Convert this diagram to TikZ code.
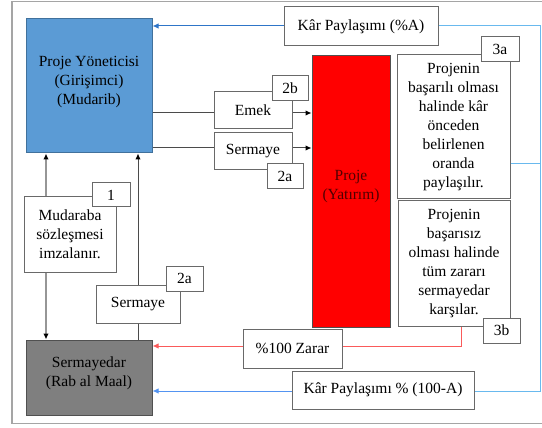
\documentclass[tikz,border=0pt]{standalone}
\usepackage{fontspec}
\setmainfont{Liberation Serif}
\newfontfamily\diagfont{Liberation Serif}
\usetikzlibrary{arrows.meta}
\definecolor{pmblue}{RGB}{91,155,213}
\definecolor{pmedge}{RGB}{65,113,156}
\definecolor{smgray}{RGB}{127,127,127}
\definecolor{smedge}{RGB}{80,80,80}
\definecolor{prred}{RGB}{255,0,0}
\definecolor{prtext}{RGB}{80,0,0}
\definecolor{boxedge}{RGB}{105,105,105}
\definecolor{frameg}{RGB}{165,165,165}
\definecolor{flowdark}{RGB}{46,117,200}
\definecolor{flowlight}{RGB}{105,185,238}
\definecolor{lossred}{RGB}{250,90,90}
\definecolor{linkdark}{RGB}{75,75,75}
\definecolor{linklight}{RGB}{150,150,150}
\tikzset{
  every node/.style={font=\diagfont\fontsize{15.5}{19}\selectfont, align=center, inner sep=0pt},
  block/.style={draw=boxedge, line width=1pt, fill=white},
  tag/.style={draw=boxedge, line width=1pt, fill=white},
  tip/.style={-{Latex[length=6pt,width=5.5pt]}},
  blacktip/.style={-{Latex[length=6pt,width=5.5pt,black]}},
}
\begin{document}
\begin{tikzpicture}[x=1pt,y=-1pt]
\useasboundingbox (0,0) rectangle (542,428);
% outer frame
\draw[frameg, line width=1.5pt] (545,1.5) -- (12,1.5) -- (12,423.5) -- (545,423.5);

% main parties
\node[draw=pmedge, line width=1pt, fill=pmblue, minimum width=126pt, minimum height=134pt] (pm) at (89,86) {};
\node (pmtext) at (89,82) {Proje Yöneticisi\\(Girişimci)\\(Mudarib)};
\node[draw=smedge, line width=1pt, fill=smgray, minimum width=126pt, minimum height=75pt] (sm) at (89,377.5) {};
\node (smtext) at (89,373) {Sermayedar\\(Rab al Maal)};
\node[draw=smedge, line width=1pt, fill=prred, minimum width=78pt, minimum height=271pt] (pr) at (351,191.5) {};
\node[text=prtext] (prtext) at (351,186.5) {Proje\\(Yatırım)};

% text boxes
\node[block, minimum width=154pt, minimum height=39pt] (karA) at (361,26.5) {Kâr Paylaşımı (\%A)};
\node[block, minimum width=113pt, minimum height=144pt] (succ) at (453.5,127) {Projenin\\başarılı olması\\halinde kâr\\önceden\\belirlenen\\oranda\\paylaşılır.};
\node[block, minimum width=112pt, minimum height=125pt] (fail) at (454,263.5) {Projenin\\başarısız\\olması halinde\\tüm zararı\\sermayedar\\karşılar.};
\node[block, minimum width=99pt, minimum height=39pt] (loss) at (292.5,348.5) {\%100 Zarar};
\node[block, minimum width=182pt, minimum height=38pt] (karB) at (383,390) {Kâr Paylaşımı \% (100-A)};
\node[block, minimum width=78pt, minimum height=37pt] (emek) at (253,110.5) {Emek};
\node[block, minimum width=78pt, minimum height=37pt] (serU) at (253,151.5) {Sermaye};
\node[block, minimum width=92pt, minimum height=75pt] (mud) at (70,234.5) {Mudaraba\\sözleşmesi\\imzalanır.};
\node[block, minimum width=84pt, minimum height=38pt] (serL) at (138,304) {Sermaye};

% step tags
\node[tag, minimum width=38pt, minimum height=25pt] (t3a) at (500,49.5) {3a};
\node[tag, minimum width=37pt, minimum height=25pt] (t3b) at (501.5,330.5) {3b};
\node[tag, minimum width=36pt, minimum height=25pt] (t2b) at (290,88.5) {2b};
\node[tag, minimum width=36pt, minimum height=25pt] (t2aU) at (285,176.5) {2a};
\node[tag, minimum width=38pt, minimum height=24pt] (t1) at (111,195) {1};
\node[tag, minimum width=37pt, minimum height=25pt] (t2aL) at (184.5,278.5) {2a};

% routing points
\coordinate (yEmek) at (0,113);
\coordinate (ySer) at (0,148);
\coordinate (xMud) at (46,0);
\coordinate (yTop) at (0,26);
\coordinate (yBot) at (0,391);
\coordinate (ySucc) at (0,164);
\coordinate (yLoss) at (0,346);
\coordinate (xRight) at (540,0);
\coordinate (xFail) at (461,0);

% labour and capital into the project
\draw[linkdark, line width=1pt] (pm.east |- yEmek) -- (emek.west |- yEmek);
\draw[linkdark, line width=1pt, blacktip] (emek.east |- yEmek) -- (pr.west |- yEmek);
\draw[linkdark, line width=1pt] (pm.east |- ySer) -- (serU.west |- ySer);
\draw[linkdark, line width=1pt, blacktip] (serU.east |- ySer) -- (pr.west |- ySer);

% contract and capital between the parties
\draw[linklight, line width=1.2pt, blacktip] (mud.north -| xMud) -- (pm.south -| xMud);
\draw[linklight, line width=1.2pt, blacktip] (mud.south -| xMud) -- (sm.north -| xMud);
\draw[linkdark, line width=1pt, blacktip] (serL.north) -- (pm.south -| serL.north);
\draw[linkdark, line width=1pt] (serL.south) -- (sm.north -| serL.south);

% profit sharing
\draw[flowdark, line width=1pt, tip] (karA.west |- yTop) -- (pm.east |- yTop);
\draw[flowlight, line width=1pt] (karA.east |- yTop) -- (xRight |- yTop) -- (xRight |- yBot) -- (karB.east |- yBot);
\draw[flowlight, line width=1pt] (succ.east |- ySucc) -- (xRight |- ySucc);
\draw[flowlight!80!blue, line width=1pt, tip] (karB.west |- yBot) -- (sm.east |- yBot);

% loss
\draw[lossred, line width=1pt] (fail.south -| xFail) -- (xFail |- yLoss) -- (loss.east |- yLoss);
\draw[lossred, line width=1pt, tip] (loss.west |- yLoss) -- (sm.east |- yLoss);
\end{tikzpicture}
\end{document}
